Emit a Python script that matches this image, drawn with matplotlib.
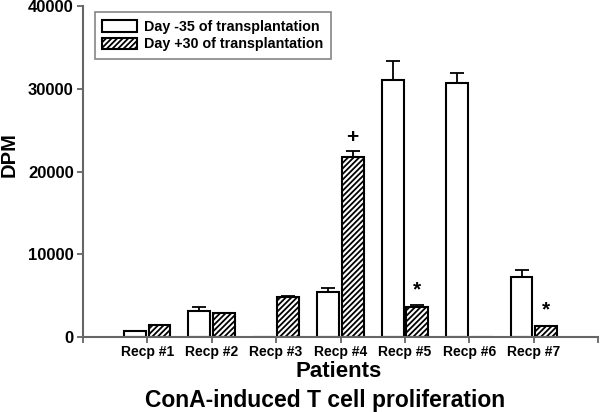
import matplotlib
matplotlib.use("Agg")
import matplotlib.pyplot as plt
import numpy as np

plt.rcParams['font.family'] = ['Liberation Sans', 'DejaVu Sans']
plt.rcParams['font.weight'] = 'bold'
plt.rcParams['hatch.linewidth'] = 1.3

categories = ["Recp #1", "Recp #2", "Recp #3", "Recp #4", "Recp #5", "Recp #6", "Recp #7"]
pre_vals = [700, 3180, 0, 5400, 31100, 30750, 7250]
pre_err = [0, 450, 0, 490, 2240, 1140, 810]
post_vals = [1400, 2870, 4840, 21770, 3590, 0, 1330]
post_err = [100, 80, 110, 760, 240, 0, 60]
annotations = ["", "", "", "+", "*", "", "*"]
ann_series = [None, None, None, "post", "post", None, "post"]
series_names = ["Day -35 of transplantation", "Day +30 of transplantation"]
yticks = [0, 10000, 20000, 30000, 40000]

fig = plt.figure(figsize=(6.0, 4.12), dpi=100)
ax = fig.add_axes([0.138, 0.182, 0.859, 0.803])

x = np.arange(1, len(categories) + 1)
w = 0.34
off = 0.19
axis_col = '#666666'

pre_h = np.array(pre_vals)
post_h = np.array(post_vals)
ax.bar(x - off, pre_h, w, facecolor='white', edgecolor='black', linewidth=1.5,
       label=series_names[0], zorder=2)
ax.bar(x + off, post_h, w, facecolor='white', edgecolor='black', linewidth=1.5,
       hatch='//////', label=series_names[1], zorder=2)
for xi, v, e in zip(x - off, pre_vals, pre_err):
    if v > 0 and e > 0:
        ax.errorbar(xi, v, yerr=[[0], [e]], fmt='none', ecolor='black', elinewidth=1.3,
                    capsize=5, capthick=1.3, zorder=3)
for xi, v, e in zip(x + off, post_vals, post_err):
    if v > 0 and e > 0:
        ax.errorbar(xi, v, yerr=[[0], [e]], fmt='none', ecolor='black', elinewidth=1.3,
                    capsize=5, capthick=1.3, zorder=3)

for i, (a, s) in enumerate(zip(annotations, ann_series)):
    if not a:
        continue
    if s == "post":
        xi = x[i] + off
        top = post_vals[i] + post_err[i]
    else:
        xi = x[i] - off
        top = pre_vals[i] + pre_err[i]
    if a == "+":
        ax.text(xi, top + 450, a, ha='center', va='bottom', fontsize=15, fontweight='bold')
    else:
        ax.text(xi, top + 700, a, ha='center', va='bottom', fontsize=15, fontweight='bold')

ax.set_xlim(0, 8)
ax.set_ylim(0, 40000)
ax.set_yticks(yticks)
ax.set_yticklabels([str(t) for t in yticks], fontsize=12, fontweight='bold')
ax.set_xticks(np.arange(0, 9))
ax.set_xticklabels([""] + categories + [""], fontsize=10, fontweight='bold')
ax.tick_params(axis='both', direction='out', color=axis_col, width=1.3, length=4.5)
ax.tick_params(axis='x', pad=1.5)
ax.tick_params(axis='y', pad=2)
for sp in ['top', 'right']:
    ax.spines[sp].set_visible(False)
for sp in ['left', 'bottom']:
    ax.spines[sp].set_color(axis_col)
    ax.spines[sp].set_linewidth(1.5)

fig.text(0.016, 0.624, "DPM", ha='center', va='center', rotation=90, fontsize=14.5,
         fontweight='bold')

fig.text(0.565, 0.098, "Patients", ha='center', va='center', fontsize=16, fontweight='bold')
fig.text(0.542, 0.029, "ConA-induced T cell proliferation", ha='center', va='center',
         fontsize=16.5, fontweight='bold')

leg = ax.legend(loc='upper left', bbox_to_anchor=(0.009, 1.004), frameon=True, fancybox=False,
                edgecolor=axis_col, fontsize=10.3, handlelength=2.4, handleheight=0.85,
                borderpad=0.55, labelspacing=0.25, handletextpad=0.5, borderaxespad=0.5)
leg.get_frame().set_linewidth(1.2)
for t in leg.get_texts():
    t.set_fontweight('bold')

fig.savefig("out.png", dpi=100)
